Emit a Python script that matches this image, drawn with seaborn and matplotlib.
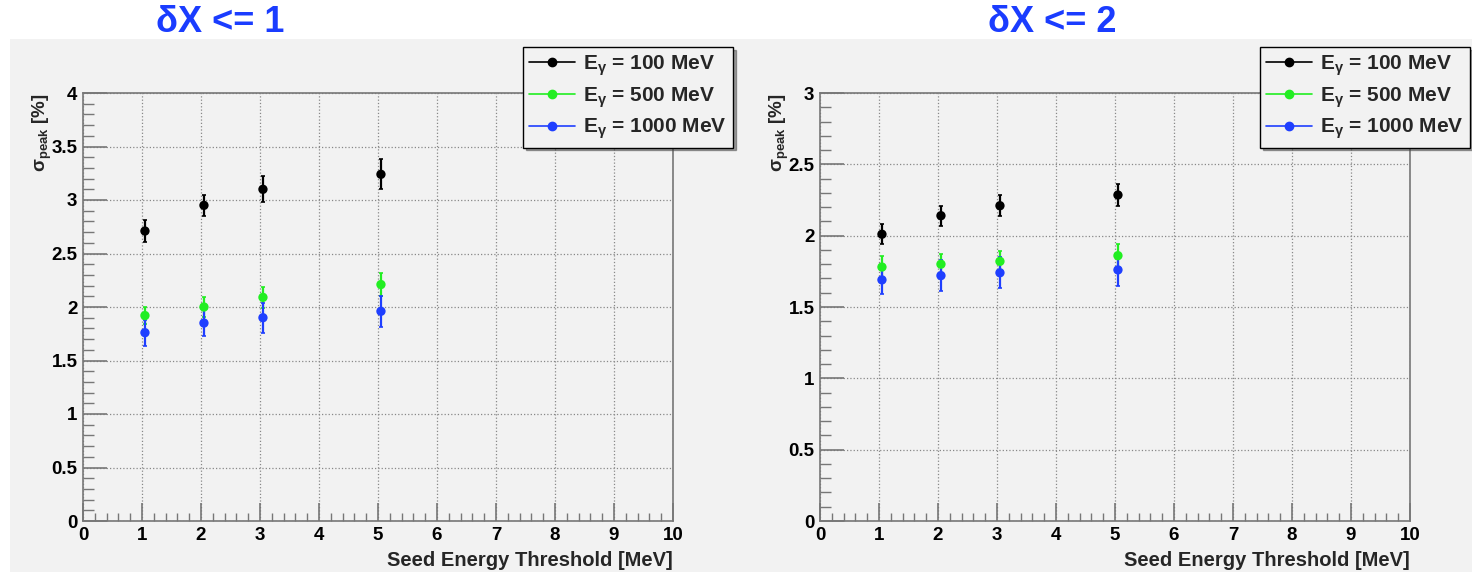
import matplotlib
matplotlib.use("Agg")
import matplotlib.pyplot as plt
import matplotlib.patches as mpatches
from matplotlib.lines import Line2D
from matplotlib.ticker import MultipleLocator
import seaborn as sb
import pandas as pd

# data
thresholds = [1.05, 2.05, 3.05, 5.05]
energies = ["100 MeV", "500 MeV", "1000 MeV"]

# dX <= 1
sigma_dx1_100 = [2.71, 2.95, 3.10, 3.24]
err_dx1_100 = [0.10, 0.10, 0.12, 0.14]
sigma_dx1_500 = [1.92, 2.00, 2.09, 2.21]
err_dx1_500 = [0.08, 0.09, 0.10, 0.105]
sigma_dx1_1000 = [1.76, 1.85, 1.90, 1.96]
err_dx1_1000 = [0.12, 0.12, 0.14, 0.145]

# dX <= 2
sigma_dx2_100 = [2.01, 2.14, 2.21, 2.285]
err_dx2_100 = [0.07, 0.07, 0.075, 0.08]
sigma_dx2_500 = [1.78, 1.80, 1.82, 1.86]
err_dx2_500 = [0.075, 0.07, 0.075, 0.08]
sigma_dx2_1000 = [1.69, 1.72, 1.74, 1.76]
err_dx2_1000 = [0.10, 0.11, 0.11, 0.11]

colors = {"100 MeV": "black", "500 MeV": "#22ee22", "1000 MeV": "#1f3fff"}


def make_frame(s100, e100, s500, e500, s1000, e1000):
    rows = []
    for name, s, e in [("100 MeV", s100, e100), ("500 MeV", s500, e500),
                       ("1000 MeV", s1000, e1000)]:
        for x, v, err in zip(thresholds, s, e):
            rows.append({"threshold": x, "sigma": v, "err": err, "energy": name})
    return pd.DataFrame(rows)


data_dx1 = make_frame(sigma_dx1_100, err_dx1_100, sigma_dx1_500, err_dx1_500,
                      sigma_dx1_1000, err_dx1_1000)
data_dx2 = make_frame(sigma_dx2_100, err_dx2_100, sigma_dx2_500, err_dx2_500,
                      sigma_dx2_1000, err_dx2_1000)

sb.set_style("ticks")
plt.rcParams["font.family"] = ["Liberation Sans", "DejaVu Sans"]
plt.rcParams["font.weight"] = "bold"
plt.rcParams["mathtext.fontset"] = "custom"
plt.rcParams["mathtext.rm"] = "Liberation Sans:bold"
plt.rcParams["mathtext.bf"] = "Liberation Sans:bold"
plt.rcParams["mathtext.it"] = "Liberation Sans:bold"

bg = "#f2f2f2"
fig = plt.figure(figsize=(14.72, 5.72), dpi=100, facecolor="white")
fig.patches.append(mpatches.Rectangle((10 / 1472, 0), 1, 1 - 39 / 572,
                                      transform=fig.transFigure,
                                      facecolor=bg, edgecolor="none", zorder=-10))


def draw_panel(left_px, data, ymax, title, title_x):
    ax = fig.add_axes([left_px / 1472, 1 - 521 / 572, 590 / 1472, 428 / 572])
    ax.set_facecolor(bg)
    for name in energies:
        sub = data[data["energy"] == name]
        ax.errorbar(sub["threshold"], sub["sigma"], yerr=sub["err"], fmt="none",
                    ecolor=colors[name], elinewidth=1.6, capsize=1.5, capthick=1.2,
                    zorder=3)
    sb.scatterplot(data=data, x="threshold", y="sigma", hue="energy",
                   palette=colors, hue_order=energies, s=45, linewidth=0,
                   legend=False, ax=ax, zorder=4)
    ax.set_xlim(0, 10)
    ax.set_ylim(0, ymax)
    ax.xaxis.set_major_locator(MultipleLocator(1))
    ax.xaxis.set_minor_locator(MultipleLocator(0.2))
    ax.yaxis.set_major_locator(MultipleLocator(0.5))
    ax.yaxis.set_minor_locator(MultipleLocator(0.1))
    ax.yaxis.set_major_formatter(plt.FuncFormatter(lambda v, p: f"{v:g}"))
    ax.tick_params(which="major", direction="in", length=13, width=1.2,
                   color="#777777", labelsize=13.5, pad=4, labelcolor="black")
    ax.tick_params(axis="y", which="major", length=17)
    ax.tick_params(which="minor", direction="in", length=6, width=1.0,
                   color="#777777")
    ax.tick_params(axis="y", which="minor", length=8)
    for lab in ax.get_xticklabels() + ax.get_yticklabels():
        lab.set_fontweight("bold")
    for sp in ax.spines.values():
        sp.set_color("#777777")
        sp.set_linewidth(1.2)
    ax.grid(True, which="major", linestyle=":", color="#888888", linewidth=0.9)
    ax.set_axisbelow(True)
    ax.set_xlabel("Seed Energy Threshold [MeV]", fontsize=14.5,
                  fontweight="bold", loc="right", labelpad=5)
    ax.set_ylabel(r"σ$_{\mathbf{peak}}$ [%]", fontsize=13.5,
                  fontweight="bold", loc="top")
    ax.yaxis.set_label_coords(-29 / 590, 1.0)
    fig.text(title_x / 1472, 1 - 22 / 572, title, color="#1a3cff",
             fontsize=26, fontweight="bold", ha="center", va="center")

    handles = [Line2D([0], [0], color=colors[n], marker="o", markersize=6,
                      linewidth=1.2) for n in energies]
    labels = [r"E$_{\gamma}$ = " + n for n in energies]
    leg = ax.legend(handles, labels, loc="upper right",
                    bbox_to_anchor=((left_px + 650) / 1472, 1 - 47 / 572),
                    bbox_transform=fig.transFigure, fontsize=15,
                    frameon=True, fancybox=False, shadow=True,
                    facecolor=bg, edgecolor="black", framealpha=1,
                    handlelength=2.2, handletextpad=0.4, borderpad=0.3,
                    labelspacing=0.35, borderaxespad=0)
    leg.get_frame().set_linewidth(1.0)
    for t in leg.get_texts():
        t.set_fontweight("bold")
    return ax


draw_panel(83, data_dx1, 4, r"δX <= 1", 220)
draw_panel(820, data_dx2, 3, r"δX <= 2", 1052)

fig.savefig("out.png", dpi=100, facecolor="white")
